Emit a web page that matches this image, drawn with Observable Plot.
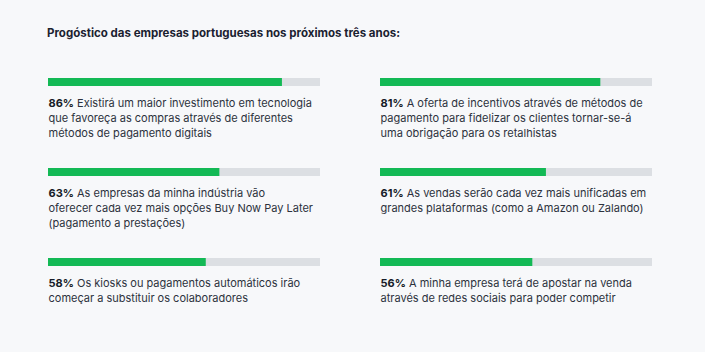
<!DOCTYPE html>
<html><head><meta charset="utf-8">
<script src="https://cdn.jsdelivr.net/npm/d3@7"></script>
<script src="https://cdn.jsdelivr.net/npm/@observablehq/plot@0.6"></script>
<style>
html,body{margin:0;padding:0;background:#f7f8fa;}
body{width:705px;height:352px;overflow:hidden;font-family:Inter,sans-serif;color:#1a2130;}
#title{box-sizing:border-box;height:56px;padding:25px 0 0 47px;font-size:11.5px;font-weight:700;line-height:16px;}
#chart svg{display:block;background:transparent;}
</style></head><body>
<div id="title">Progóstico das empresas portuguesas nos próximos três anos:</div>
<div id="chart"></div>
<script>
const values = [86, 81, 63, 61, 58, 56];
const columns = [0, 1, 0, 1, 0, 1];
const rows = [0, 0, 1, 1, 2, 2];
const statements = [
  ["Existirá um maior investimento em tecnologia", "que favoreça as compras através de diferentes", "métodos de pagamento digitais"],
  ["A oferta de incentivos através de métodos de", "pagamento para fidelizar os clientes tornar-se-á", "uma obrigação para os retalhistas"],
  ["As empresas da minha indústria vão", "oferecer cada vez mais opções Buy Now Pay Later", "(pagamento a prestações)"],
  ["As vendas serão cada vez mais unificadas em", "grandes plataformas (como a Amazon ou Zalando)"],
  ["Os kiosks ou pagamentos automáticos irão", "começar a substituir os colaboradores"],
  ["A minha empresa terá de apostar na venda", "através de redes sociais para poder competir"]
];

const items = values.map((v, i) => ({
  value: v, col: columns[i], row: rows[i],
  pct: v + "%", lines: statements[i]
}));

const fontSize = 11;
const chart = Plot.plot({
  width: 705,
  height: 296,
  marginTop: 21,
  marginBottom: 86,
  marginLeft: 47,
  marginRight: 52,
  style: {background: "transparent", fontFamily: "Inter, sans-serif"},
  fx: {axis: null, domain: [0, 1], paddingInner: 0.18, paddingOuter: 0},
  fy: {axis: null, domain: [0, 1, 2], paddingInner: 0.9116, paddingOuter: 0},
  x: {axis: null, domain: [0, 100]},
  marks: [
    Plot.barX(items, {x1: d => 0, x2: d => 100, fx: "col", fy: "row", fill: "#dcdfe3"}),
    Plot.barX(items, {x1: d => 0, x2: "value", fx: "col", fy: "row", fill: "#13b955"}),
    Plot.text(items, {
      x: d => 0, fx: "col", fy: "row",
      text: d => d.pct + " " + d.lines.join("\n"),
      textAnchor: "start", lineAnchor: "top", dy: 13.5,
      lineHeight: 15 / fontSize, fontSize, fill: "#2c323d"
    })
  ]
});
document.getElementById("chart").appendChild(chart);

// embolden the leading percentage of each statement
chart.querySelectorAll('g[aria-label="text"] text').forEach((t, i) => {
  const first = t.querySelector("tspan") || t;
  const s = first.textContent;
  const k = s.indexOf(" ");
  const bold = document.createElementNS("http://www.w3.org/2000/svg", "tspan");
  bold.setAttribute("font-weight", "700");
  bold.setAttribute("fill", "#161c28");
  bold.textContent = s.slice(0, k);
  first.textContent = "";
  first.appendChild(bold);
  first.appendChild(document.createTextNode(s.slice(k)));
});
</script>
</body></html>
